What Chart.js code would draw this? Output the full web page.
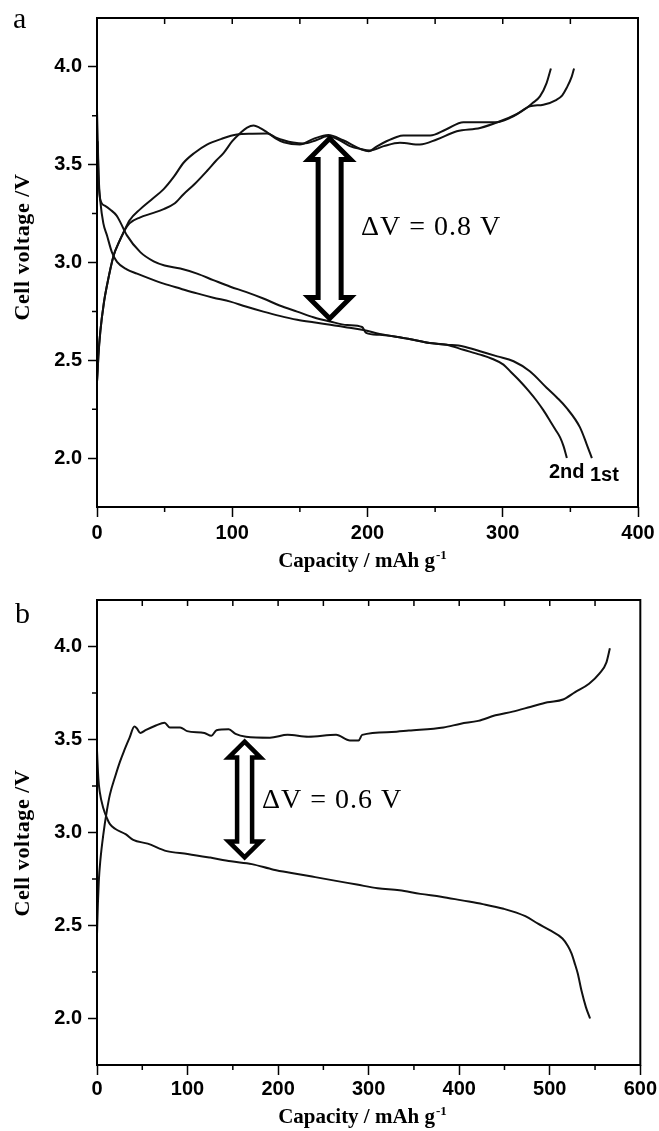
<!DOCTYPE html>
<html>
<head>
<meta charset="utf-8">
<script src="https://cdn.jsdelivr.net/npm/chart.js@4.4.1/dist/chart.umd.min.js"></script>
<style>
  html, body { margin: 0; padding: 0; background: #fff; }
  #wrap { position: relative; width: 659px; height: 1131px; overflow: hidden; }
  canvas { position: absolute; left: 0; }
  #chartA { top: 0; }
  #chartB { top: 582px; }
</style>
</head>
<body>
<div id="wrap">
  <canvas id="chartA" width="659" height="582"></canvas>
  <canvas id="chartB" width="659" height="549"></canvas>
</div>
<script>
// ---- panel a : 1st / 2nd cycle ----
const capA_dis1 = [0, 0.8, 1.5, 2.5, 6, 9.9, 14.5, 17.3, 22, 32, 41.9, 50, 61.6, 74, 86, 98.6, 110, 123, 135, 148, 160, 172.5, 185, 196, 199, 209, 230, 246, 258.5, 270.9, 283.2, 296, 308, 320, 332.4, 340, 347, 357.1, 362, 365.9];
const voltA_dis1 = [3.78, 3.55, 3.40, 3.32, 3.29, 3.27, 3.24, 3.205, 3.14, 3.053, 3.006, 2.985, 2.969, 2.943, 2.91, 2.876, 2.85, 2.816, 2.78, 2.749, 2.72, 2.698, 2.68, 2.67, 2.64, 2.63, 2.61, 2.588, 2.58, 2.571, 2.546, 2.52, 2.495, 2.444, 2.36, 2.31, 2.258, 2.157, 2.072, 2.0];

const capA_dis2 = [0.5, 1, 2.5, 4.7, 7.4, 11, 14.8, 22, 29.6, 40, 49.3, 62, 74, 86, 98.6, 110, 123, 135, 148, 160, 172.5, 185, 197, 209, 230, 246, 258.5, 270.9, 283.2, 292, 300.5, 306, 312.8, 319, 325.2, 330, 335, 339, 342.4, 345, 347.4];
const voltA_dis2 = [3.62, 3.45, 3.31, 3.20, 3.138, 3.053, 3.003, 2.965, 2.943, 2.915, 2.892, 2.866, 2.842, 2.82, 2.80, 2.775, 2.749, 2.727, 2.707, 2.694, 2.682, 2.668, 2.655, 2.635, 2.61, 2.588, 2.58, 2.554, 2.529, 2.508, 2.478, 2.44, 2.393, 2.345, 2.292, 2.245, 2.19, 2.145, 2.106, 2.06, 2.001];

const capA_ch2 = [0, 0.5, 1, 2.5, 5, 7.4, 12.3, 16, 19.7, 24, 32, 40, 49.3, 57, 64, 72, 81.3, 88, 93.7, 100, 106, 111, 115.8, 120, 125.7, 132, 138, 150, 160, 171, 182, 194.7, 201, 207, 214, 221.6, 226.5, 246.3, 258, 270.9, 295.5, 305.4, 311, 317.6, 322, 327.5, 332.4, 335.6];
const voltA_ch2 = [2.39, 2.45, 2.52, 2.65, 2.79, 2.884, 3.036, 3.10, 3.155, 3.20, 3.231, 3.25, 3.273, 3.30, 3.349, 3.40, 3.468, 3.52, 3.561, 3.62, 3.662, 3.69, 3.70, 3.69, 3.666, 3.635, 3.615, 3.603, 3.632, 3.652, 3.625, 3.581, 3.569, 3.594, 3.62, 3.642, 3.649, 3.649, 3.68, 3.717, 3.717, 3.739, 3.76, 3.79, 3.815, 3.849, 3.917, 3.992];

const capA_ch1 = [0, 0.5, 1, 2.5, 5, 7.4, 12.3, 16, 19.7, 24, 32, 40, 49.3, 57, 64, 72, 81.3, 92, 103.5, 115, 125.7, 132, 138, 145, 152.8, 162, 170, 178, 187, 195, 202, 212, 224, 238.8, 251.2, 266, 283.2, 298, 310.2, 320, 330, 339.8, 344, 347.2, 351, 352.7];
const voltA_ch1 = [2.39, 2.45, 2.52, 2.65, 2.79, 2.884, 3.036, 3.10, 3.155, 3.215, 3.273, 3.32, 3.375, 3.44, 3.51, 3.56, 3.603, 3.632, 3.654, 3.658, 3.659, 3.64, 3.625, 3.613, 3.608, 3.625, 3.645, 3.63, 3.595, 3.58, 3.573, 3.595, 3.612, 3.603, 3.629, 3.671, 3.688, 3.722, 3.759, 3.798, 3.807, 3.832, 3.855, 3.892, 3.95, 3.992];

// ---- panel b ----
const capB_dis = [0, 1.5, 3, 7, 11.6, 14.3, 20, 32, 40, 56, 77, 100, 125, 148, 171, 195, 218, 241, 264, 287, 310, 334, 357, 380, 403, 426, 449, 473, 487, 500, 514, 520, 524, 528, 531, 535, 540, 544.5];
const voltB_dis = [3.44, 3.29, 3.22, 3.13, 3.07, 3.045, 3.02, 2.99, 2.96, 2.94, 2.90, 2.885, 2.865, 2.845, 2.83, 2.80, 2.78, 2.76, 2.74, 2.72, 2.70, 2.69, 2.67, 2.655, 2.635, 2.615, 2.59, 2.55, 2.51, 2.475, 2.43, 2.39, 2.35, 2.29, 2.24, 2.15, 2.06, 2.0];

const capB_ch = [0, 1, 2, 3.7, 7, 11, 14.3, 20, 25.3, 30, 36, 41.3, 44, 47.8, 53.6, 65, 74.6, 80.4, 91.8, 99.5, 118.6, 126.3, 132, 145.4, 153, 164.6, 191, 210.5, 233.4, 264, 279.4, 289, 292.8, 325.3, 344.4, 382.7, 401.8, 421, 440, 459, 478.4, 497.5, 514.7, 528, 543.4, 555, 562.6, 566.4];
const voltB_ch = [2.45, 2.62, 2.74, 2.85, 2.99, 3.12, 3.205, 3.30, 3.38, 3.44, 3.51, 3.57, 3.56, 3.535, 3.55, 3.575, 3.59, 3.565, 3.565, 3.545, 3.535, 3.52, 3.55, 3.555, 3.53, 3.515, 3.51, 3.525, 3.515, 3.525, 3.495, 3.495, 3.525, 3.54, 3.548, 3.565, 3.585, 3.60, 3.63, 3.65, 3.675, 3.70, 3.715, 3.755, 3.80, 3.855, 3.915, 3.99];

// ticks
const xTicksA = [0, 100, 200, 300, 400];
const xMinorA = [50, 150, 250, 350];
const xTicksB = [0, 100, 200, 300, 400, 500, 600];
const xMinorB = [50, 150, 250, 350, 450, 550];
const yTicks = [2.0, 2.5, 3.0, 3.5, 4.0];
const yMinor = [2.25, 2.75, 3.25, 3.75];

// voltage gap arrows (capacity, top voltage, bottom voltage)
const arrowA = [172, 3.649, 2.698];
const arrowB = [163, 3.505, 2.85];

function toPoints(xs, ys) {
  return xs.map((x, i) => ({ x: x, y: ys[i] }));
}

function curve(xs, ys) {
  return {
    data: toPoints(xs, ys),
    showLine: true,
    borderColor: '#111',
    borderWidth: 2,
    pointRadius: 0,
    cubicInterpolationMode: 'monotone'
  };
}

function drawArrow(ctx, cx, yTop, yBot, hw, hh, sw, lw) {
  ctx.save();
  ctx.beginPath();
  ctx.moveTo(cx, yTop);
  ctx.lineTo(cx + hw, yTop + hh);
  ctx.lineTo(cx + sw, yTop + hh);
  ctx.lineTo(cx + sw, yBot - hh);
  ctx.lineTo(cx + hw, yBot - hh);
  ctx.lineTo(cx, yBot);
  ctx.lineTo(cx - hw, yBot - hh);
  ctx.lineTo(cx - sw, yBot - hh);
  ctx.lineTo(cx - sw, yTop + hh);
  ctx.lineTo(cx - hw, yTop + hh);
  ctx.closePath();
  ctx.fillStyle = '#fff';
  ctx.fill();
  ctx.lineWidth = lw;
  ctx.lineJoin = 'miter';
  ctx.strokeStyle = '#000';
  ctx.stroke();
  ctx.restore();
}

const decor = {
  id: 'decor',
  afterDraw(chart, args, o) {
    const { ctx, chartArea: a, scales: { x, y } } = chart;
    ctx.save();
    ctx.strokeStyle = '#000';
    ctx.fillStyle = '#000';

    // frame
    ctx.lineWidth = 2;
    ctx.strokeRect(a.left, a.top, a.right - a.left, a.bottom - a.top);

    // minor ticks
    ctx.lineWidth = 1.5;
    ctx.beginPath();
    yMinor.forEach(v => {
      const py = y.getPixelForValue(v);
      ctx.moveTo(a.left - 5, py); ctx.lineTo(a.left, py);
    });
    o.xMinor.forEach(v => {
      const px = x.getPixelForValue(v);
      ctx.moveTo(px, a.bottom); ctx.lineTo(px, a.bottom + 5);
    });
    o.xTop.forEach(v => {
      const px = x.getPixelForValue(v);
      ctx.moveTo(px, a.top); ctx.lineTo(px, a.top + 6);
    });
    ctx.stroke();

    // arrow
    const ar = o.arrow;
    drawArrow(ctx, x.getPixelForValue(ar[0]), y.getPixelForValue(ar[1]) + 3,
      y.getPixelForValue(ar[2]) - 3, o.arrowSize[0], o.arrowSize[1], o.arrowSize[2], o.arrowSize[3]);

    // panel letter
    ctx.font = '30px "Liberation Serif"';
    ctx.textAlign = 'left';
    ctx.textBaseline = 'alphabetic';
    ctx.fillText(o.letter, o.letterPos[0], o.letterPos[1]);

    // delta V label
    ctx.font = '28px "Liberation Serif"';
    ctx.letterSpacing = '1px';
    ctx.textBaseline = 'middle';
    ctx.fillText(o.dv, o.dvPos[0], o.dvPos[1]);
    ctx.letterSpacing = '0px';

    // y title
    ctx.save();
    ctx.translate(o.yTitle[0], o.yTitle[1]);
    ctx.rotate(-Math.PI / 2);
    ctx.font = 'bold 22px "Liberation Serif"';
    ctx.letterSpacing = '0.6px';
    ctx.textAlign = 'center';
    ctx.textBaseline = 'middle';
    ctx.fillText('Cell voltage /V', 0, 0);
    ctx.restore();

    // x title with superscript
    ctx.font = 'bold 21px "Liberation Serif"';
    ctx.textBaseline = 'alphabetic';
    const main = 'Capacity / mAh g';
    const wMain = ctx.measureText(main).width;
    ctx.font = 'bold 13px "Liberation Serif"';
    const wSup = ctx.measureText('-1').width;
    const x0 = o.xTitle[0] - (wMain + wSup) / 2;
    ctx.font = 'bold 21px "Liberation Serif"';
    ctx.fillText(main, x0, o.xTitle[1]);
    ctx.font = 'bold 13px "Liberation Serif"';
    ctx.fillText('-1', x0 + wMain + 1, o.xTitle[1] - 8);

    // cycle labels
    if (o.cycles) {
      ctx.font = 'bold 20px "Liberation Sans"';
      o.cycles.forEach(c => ctx.fillText(c[0], c[1], c[2]));
    }
    ctx.restore();
  }
};

function makeChart(id, cfg) {
  const canvas = document.getElementById(id);
  const H = canvas.height;
  return new Chart(canvas.getContext('2d'), {
    type: 'scatter',
    data: { datasets: cfg.datasets },
    options: {
      responsive: false,
      animation: false,
      events: [],
      layout: { padding: { left: 0, top: cfg.top, right: 659 - cfg.right, bottom: 0 } },
      plugins: {
        legend: { display: false },
        tooltip: { enabled: false },
        decor: cfg.decor
      },
      scales: {
        x: {
          type: 'linear',
          min: 0,
          max: cfg.xMax,
          afterBuildTicks: s => { s.ticks = cfg.xTicks.map(v => ({ value: v })); },
          afterFit: s => { s.height = H - cfg.bottom; },
          ticks: {
            color: '#000',
            font: { family: 'Liberation Sans', weight: 'bold', size: 20 },
            padding: cfg.xPad,
            maxRotation: 0,
            autoSkip: false,
            callback: v => String(v)
          },
          grid: { drawOnChartArea: false, drawTicks: true, tickLength: 10, tickColor: '#000', tickWidth: 1.5 },
          border: { display: false }
        },
        y: {
          type: 'linear',
          min: 1.75,
          max: 4.25,
          afterBuildTicks: s => { s.ticks = yTicks.map(v => ({ value: v })); },
          afterFit: s => { s.width = 97; },
          ticks: {
            color: '#000',
            font: { family: 'Liberation Sans', weight: 'bold', size: 20 },
            padding: 6,
            callback: v => Number(v).toFixed(1)
          },
          grid: { drawOnChartArea: false, drawTicks: true, tickLength: 9, tickColor: '#000', tickWidth: 1.5 },
          border: { display: false }
        }
      }
    },
    plugins: [decor]
  });
}

makeChart('chartA', {
  top: 14.5, right: 638, bottom: 507, xMax: 400, xTicks: xTicksA, xPad: 4,
  datasets: [
    curve(capA_dis1, voltA_dis1),
    curve(capA_dis2, voltA_dis2),
    curve(capA_ch1, voltA_ch1),
    curve(capA_ch2, voltA_ch2)
  ],
  decor: {
    xMinor: xMinorA, xTop: xMinorA.concat([100, 200, 300]),
    arrow: arrowA, arrowSize: [21, 21, 11.5, 5],
    letter: 'a', letterPos: [13, 28],
    dv: '\u0394V = 0.8 V', dvPos: [361, 228],
    yTitle: [23, 247], xTitle: [362, 567],
    cycles: [['2nd', 549, 478], ['1st', 590, 481]]
  }
});

makeChart('chartB', {
  top: 17, right: 641, bottom: 483, xMax: 600, xTicks: xTicksB, xPad: 2,
  datasets: [
    curve(capB_dis, voltB_dis),
    curve(capB_ch, voltB_ch)
  ],
  decor: {
    xMinor: xMinorB, xTop: xMinorB.concat([100, 200, 300, 400, 500]),
    arrow: arrowB, arrowSize: [16, 16, 7.5, 4.5],
    letter: 'b', letterPos: [15, 41],
    dv: '\u0394V = 0.6 V', dvPos: [262, 219],
    yTitle: [23, 261], xTitle: [362, 541],
    cycles: null
  }
});
</script>
</body>
</html>
